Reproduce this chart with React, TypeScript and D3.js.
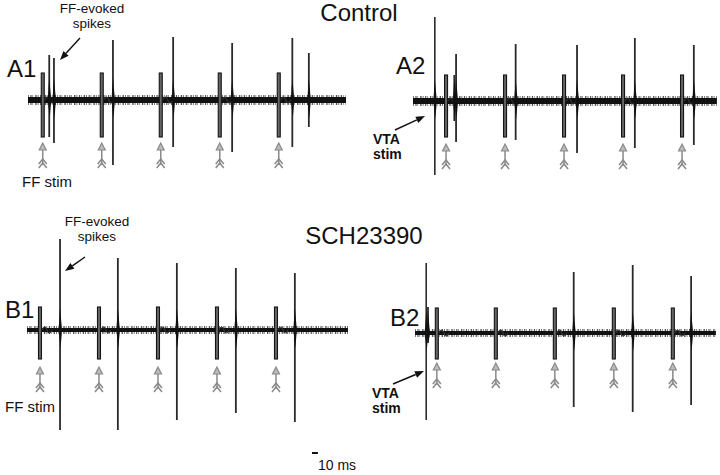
import * as d3 from 'd3';

// times in ms from start of each sweep, amplitudes in trace units (up / down from baseline)
const SWEEP_MS = [539, 515, 544, 510];
const FF_STIM_MS = [
  [25, 125, 225, 325, 425],
  [56, 156, 256, 356, 456],
  [22, 122, 222, 322, 422],
  [37, 137, 237, 337, 437],
];
const STIM_UP = [27, 26, 23, 25];
const STIM_DOWN = [37, 36, 29, 26];

const VTA_STIM_MS = [null, 37, null, 19];
const VTA_UP = [0, 84, 0, 70];
const VTA_DOWN = [0, 74, 0, 87];

const SPIKE_MS = [
  [36, 44, 144, 246, 346, 448, 476],
  [70, 73, 174, 278, 376, 476],
  [56, 154, 254, 354, 454],
  [22, 269, 369, 468],
];
const SPIKE_UP = [
  [45, 42, 60, 63, 57, 62, 47],
  [26, 47, 57, 56, 63, 56],
  [91, 72, 67, 62, 57],
  [26, 61, 68, 57],
];
const SPIKE_DOWN = [
  [37, 43, 65, 47, 52, 47, 27],
  [20, 41, 39, 52, 47, 44],
  [100, 100, 90, 83, 92],
  [10, 74, 79, 72],
];

const PANEL_NAMES = ['A1', 'A2', 'B1', 'B2'];
const CONDITIONS = ['Control', 'SCH23390'];
const SCALE_BAR_MS = 10;

// layout
const PX_PER_MS = 0.59;
const LAYOUT = [
  { x0: 28, base: 100, noise: 10, arrowTop: 43, label: [7, 77] },
  { x0: 413, base: 101, noise: 10, arrowTop: 43, label: [396, 74] },
  { x0: 27, base: 330, noise: 8, arrowTop: 37, label: [5, 318] },
  { x0: 415, base: 333, noise: 8, arrowTop: 30, label: [390, 326] },
];

const FONT = '"Liberation Sans", Arial, sans-serif';
const GRAY = '#8a8a8a';
const INK = '#111';

function Panel({ i }) {
  const L = LAYOUT[i];
  const x = d3.scaleLinear().domain([0, SWEEP_MS[i]]).range([L.x0, L.x0 + SWEEP_MS[i] * PX_PER_MS]);
  const y = d3.scaleLinear().domain([-100, 100]).range([L.base + 100, L.base - 100]);
  const line = d3.line<[number, number]>().x((d) => x(d[0])).y((d) => y(d[1]));
  const sweep = line([[0, 0], [SWEEP_MS[i], 0]]) || '';

  const spike = (t: number, up: number, down: number, key: string, w = 1.8) => {
    const cx = x(t);
    return (
      <g key={key}>
        <line x1={cx} x2={cx} y1={y(up)} y2={y(-down)} stroke="#2a2a2a" strokeWidth={w} />
        <path d={`M${cx},${y(Math.min(up, 22))} L${cx + 2},${y(0)} L${cx + 0.5},${y(-Math.min(down, 18))} L${cx - 1.5},${y(0)} Z`} fill={INK} />
      </g>
    );
  };

  const vta = VTA_STIM_MS[i];

  return (
    <g>
      {/* noisy baseline: loose hatch for the noise envelope, solid core */}
      <path d={sweep} stroke="#222" strokeWidth={L.noise} strokeDasharray="0.8 1.6 1.2 0.9 0.6 2.1 1.4 1.1" opacity={0.75} />
      <path d={sweep} stroke={INK} strokeWidth={L.noise - 4} />

      {/* FF stim artifacts */}
      {FF_STIM_MS[i].map((t, k) => {
        const cx = x(t);
        return (
          <g key={'s' + k}>
            <rect x={cx - 1.5} y={y(STIM_UP[i])} width={3} height={y(-STIM_DOWN[i]) - y(STIM_UP[i])}
              fill="#666" stroke="#151515" strokeWidth={1.1} />
            <path d={`M${cx + 2},${y(0)} q3,-6 5,0 t5,0`} stroke="#333" strokeWidth={1.2} fill="none" />
          </g>
        );
      })}

      {/* VTA stim artifact */}
      {vta != null && spike(vta, VTA_UP[i], VTA_DOWN[i], 'vta', 1.6)}

      {/* evoked spikes */}
      {SPIKE_MS[i].map((t, k) => spike(t, SPIKE_UP[i][k], SPIKE_DOWN[i][k], 'p' + k))}

      {/* stim markers */}
      {FF_STIM_MS[i].map((t, k) => {
        const cx = x(t);
        const y0 = L.base + L.arrowTop;
        return (
          <g key={'a' + k} stroke={GRAY} strokeWidth={1.5} fill="none">
            <line x1={cx} x2={cx} y1={y0 + 1} y2={y0 + 22} />
            <path d={`M${cx},${y0} L${cx - 3.5},${y0 + 7} L${cx + 3.5},${y0 + 7} Z`} fill="#bbb" strokeWidth={1.2} />
            <polyline points={`${cx - 4},${y0 + 21} ${cx},${y0 + 16} ${cx + 4},${y0 + 21}`} />
            <polyline points={`${cx - 4},${y0 + 25} ${cx},${y0 + 20} ${cx + 4},${y0 + 25}`} />
          </g>
        );
      })}

      <text x={L.label[0]} y={L.label[1]} fontSize={24} fontFamily={FONT} fill={INK}>{PANEL_NAMES[i]}</text>
    </g>
  );
}

function Pointer({ x1, y1, x2, y2 }) {
  const a = Math.atan2(y2 - y1, x2 - x1);
  const len = 9, hw = 3.5;
  const bx = x2 - len * Math.cos(a), by = y2 - len * Math.sin(a);
  const px = -Math.sin(a) * hw, py = Math.cos(a) * hw;
  return (
    <g>
      <line x1={x1} y1={y1} x2={bx} y2={by} stroke={INK} strokeWidth={1.4} />
      <path d={`M${x2},${y2} L${bx + px},${by + py} L${bx - px},${by - py} Z`} fill={INK} />
    </g>
  );
}

export default function App() {
  const scaleX = d3.scaleLinear().domain([0, SCALE_BAR_MS]).range([312, 312 + SCALE_BAR_MS * PX_PER_MS]);
  return (
    <svg width={720} height={475} style={{ position: 'absolute', left: 0, top: 0, background: '#fff' }}>
      <rect width={720} height={475} fill="#fff" />
      <text x={359} y={21} textAnchor="middle" fontSize={24} fontFamily={FONT} fill={INK}>{CONDITIONS[0]}</text>
      <text x={364} y={244} textAnchor="middle" fontSize={24} fontFamily={FONT} fill={INK}>{CONDITIONS[1]}</text>

      {[0, 1, 2, 3].map((i) => <Panel key={i} i={i} />)}

      {/* A1 annotations */}
      <text x={92} y={13} textAnchor="middle" fontSize={13.5} fontFamily={FONT} fill={INK}>FF-evoked</text>
      <text x={92} y={28} textAnchor="middle" fontSize={13.5} fontFamily={FONT} fill={INK}>spikes</text>
      <Pointer x1={80} y1={38} x2={60} y2={60} />
      <text x={22} y={187} fontSize={15} fontFamily={FONT} fill={INK}>FF stim</text>

      {/* A2 annotations */}
      <text x={373} y={144} fontSize={14} fontWeight="bold" fontFamily={FONT} fill={INK}>VTA</text>
      <text x={373} y={159} fontSize={14} fontWeight="bold" fontFamily={FONT} fill={INK}>stim</text>
      <Pointer x1={395} y1={130} x2={425} y2={116} />

      {/* B1 annotations */}
      <text x={97} y={226} textAnchor="middle" fontSize={13.5} fontFamily={FONT} fill={INK}>FF-evoked</text>
      <text x={97} y={241} textAnchor="middle" fontSize={13.5} fontFamily={FONT} fill={INK}>spikes</text>
      <Pointer x1={85} y1={257} x2={65} y2={271} />
      <text x={5} y={412} fontSize={15} fontFamily={FONT} fill={INK}>FF stim</text>

      {/* B2 annotations */}
      <text x={372} y={398} fontSize={14} fontWeight="bold" fontFamily={FONT} fill={INK}>VTA</text>
      <text x={372} y={413} fontSize={14} fontWeight="bold" fontFamily={FONT} fill={INK}>stim</text>
      <Pointer x1={393} y1={384} x2={424} y2={371} />

      {/* scale bar */}
      <line x1={scaleX(0)} x2={scaleX(SCALE_BAR_MS)} y1={453} y2={453} stroke={INK} strokeWidth={2} />
      <text x={318} y={470} fontSize={14} fontFamily={FONT} fill={INK}>{`${SCALE_BAR_MS} ms`}</text>
    </svg>
  );
}
